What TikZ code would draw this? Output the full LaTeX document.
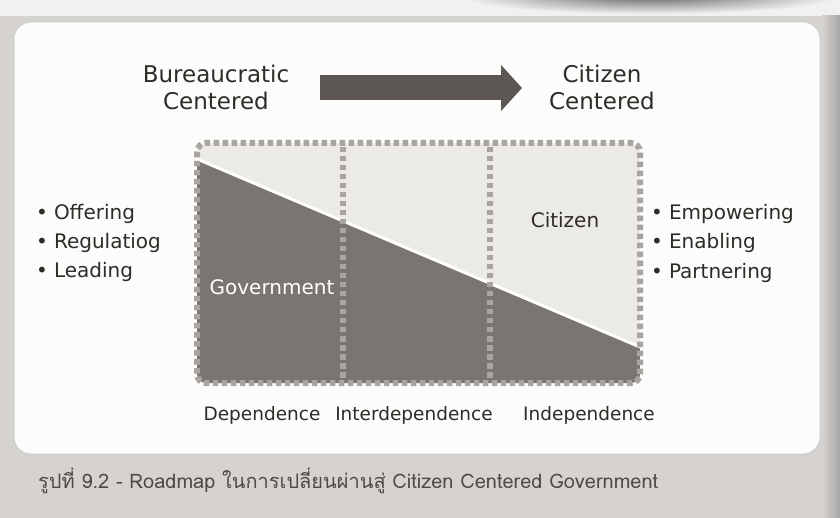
\documentclass[tikz,border=0pt]{standalone}
\usepackage{fontspec}
\setmainfont{DejaVu Sans}
\newfontfamily\thaifont[Script=Thai]{Loma}
\usetikzlibrary{arrows.meta}
\definecolor{pagegray}{HTML}{D6D3CF}
\definecolor{stripc}{HTML}{F2F1EF}
\definecolor{panelwhite}{HTML}{FCFCFA}
\definecolor{lightfill}{HTML}{ECEAE5}
\definecolor{darkfill}{HTML}{7A7571}
\definecolor{dashgray}{HTML}{A9A4A1}
\definecolor{arrowgray}{HTML}{5C5754}
\definecolor{inkc}{HTML}{2E2B29}
\tikzset{
  title/.style={font=\fontsize{23}{27}\selectfont, text=inkc, align=center, inner sep=0pt},
  listitem/.style={font=\fontsize{20}{22}\selectfont, text=inkc, anchor=west, inner sep=0pt},
  stage/.style={font=\fontsize{18.5}{20}\selectfont, text=inkc, inner sep=0pt},
  dashline/.style={draw=dashgray, line width=6pt, dash pattern=on 5.5pt off 3.5pt},
  bigarrow/.style={draw=arrowgray, line width=25pt, -{Triangle[length=21pt,width=45pt]}},
}
\begin{document}
\begin{tikzpicture}[x=1pt,y=-1pt]
\useasboundingbox (0,0) rectangle (840,518);
% page background
\fill[pagegray] (0,0) rectangle (840,518);
\fill[stripc] (0,0) rectangle (840,16);
\begin{scope}
\clip (0,0) rectangle (840,15);
\shade[inner color=black!60, outer color=stripc] (650,-4) ellipse [x radius=190pt, y radius=18pt];
\end{scope}
\shade[left color=pagegray, right color=black!35] (822,16) rectangle (840,518);
% panel
\fill[panelwhite, rounded corners=18pt] (12,20) rectangle (822,456);
\draw[black!18, line width=3pt, rounded corners=18pt] (13,21) rectangle (821,455);
% titles
\node[title] (bur) at (216,87) {Bureaucratic\\Centered};
\node[title] (cit) at (602,87) {Citizen\\Centered};
\coordinate (arrS) at (320,88);
\coordinate (arrE) at (522,88);
\draw[bigarrow] (arrS) -- (arrE);
% main box
\begin{scope}
\clip[rounded corners=9pt] (197,143) rectangle (640,383);
\fill[lightfill] (197,143) rectangle (640,383);
\fill[darkfill] (197,159) -- (640,347) -- (640,383) -- (197,383) -- cycle;
\draw[white, line width=3pt] (197,159) -- (640,347);
\end{scope}
\draw[dashline] (343,147) -- (343,380);
\draw[dashline] (490,147) -- (490,380);
\draw[dashline, rounded corners=9pt] (197,143) rectangle (640,383);
\node[font=\fontsize{20}{22}\selectfont, text=white, inner sep=0pt] (gov) at (272,287) {Government};
\node[font=\fontsize{20}{22}\selectfont, text=inkc, inner sep=0pt] (citz) at (565,220) {Citizen};
% left list
\node[listitem] (l1) at (36,214) {•\hspace{6pt}Offering};
\node[listitem] (l2) at (36,243) {•\hspace{6pt}Regulatiog};
\node[listitem] (l3) at (36,272) {•\hspace{6pt}Leading};
% right list
\node[listitem] (r1) at (651,214) {•\hspace{6pt}Empowering};
\node[listitem] (r2) at (651,243) {•\hspace{6pt}Enabling};
\node[listitem] (r3) at (651,273) {•\hspace{6pt}Partnering};
% stages
\node[stage] (s1) at (262,415) {Dependence};
\node[stage] (s2) at (414,415) {Interdependence};
\node[stage] (s3) at (589,415) {Independence};
% caption
\node[anchor=west, inner sep=0pt, text=inkc!85, font=\thaifont\fontsize{20}{22}\selectfont] (cap) at (38,481) {รูปที่ 9.2 - Roadmap ในการเปลี่ยนผ่านสู่ Citizen Centered Government};
\end{tikzpicture}
\end{document}
